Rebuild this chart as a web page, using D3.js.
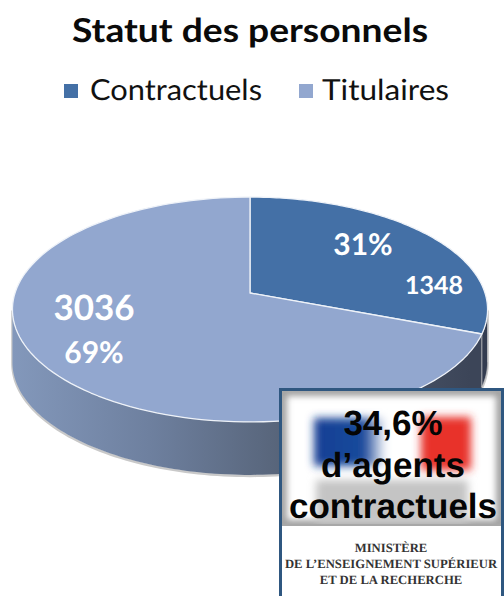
<!DOCTYPE html>
<html><head><meta charset="utf-8">
<script src="https://cdn.jsdelivr.net/npm/d3@7"></script>
<style>html,body{margin:0;padding:0;background:#fff;overflow:hidden}svg{display:block}text{text-rendering:geometricPrecision}</style>
</head><body><svg id="c" width="504" height="596"></svg>
<script>
const categories = ["Contractuels", "Titulaires"];
const values = [1348, 3036];
const percentLabels = ["31%", "69%"];
const colors = ["#4470a6", "#92a7cf"];
const insetHeadline = ["34,6%", "d\u2019agents", "contractuels"];
const insetFooter = ["MINIST\u00c8RE", "DE L\u2019ENSEIGNEMENT SUP\u00c9RIEUR", "ET DE LA RECHERCHE"];

const svg = d3.select("#c");
const defs = svg.append("defs");
const SANS = "Lato, 'Open Sans', sans-serif";

svg.append("text").text("Statut des personnels").attr("x", 72).attr("y", 42)
  .attr("textLength", 356).attr("lengthAdjust", "spacingAndGlyphs")
  .attr("font-family", SANS).attr("font-weight", 700)
  .attr("font-size", 33).attr("fill", "#0a0a0a");

const legendX = d3.scaleOrdinal().domain(categories).range([64, 299]);
const legendLen = d3.scaleOrdinal().domain(categories).range([172, 127]);
const lg = svg.selectAll("g.lg").data(categories).join("g").attr("class", "lg")
  .attr("transform", d => `translate(${legendX(d)},0)`);
lg.append("rect").attr("y", 84).attr("width", 14).attr("height", 14).attr("fill", (d, i) => colors[i]);
lg.append("text").text(d => d).attr("x", (d, i) => i ? 23 : 26).attr("y", 100).attr("font-family", SANS)
  .attr("textLength", d => legendLen(d)).attr("lengthAdjust", "spacingAndGlyphs")
  .attr("font-size", 29).attr("fill", "#111");

// Perspective projection of the unit disc onto the page
const P = {cx: 250, cy: 293, a: 235, b: 110, k: 0.1467, depth: 53};
const project = (ang, r = 1) => {
  const u = r * Math.sin(ang), v = -r * Math.cos(ang), w = 1 - P.k * v;
  return [P.cx + P.a * u / w, P.cy + P.b * v / w];
};
const pieGen = d3.pie().sort(null).value(d => d);
const arcs = pieGen(values);
const sample = (a0, a1) => d3.range(0, 121).map(i => project(d3.interpolateNumber(a0, a1)(i / 120)));
const line = d3.line();
const leftmost = 2 * Math.PI - Math.PI / 2 - Math.atan(P.k / Math.sqrt(1 - P.k * P.k));
const rightmost = Math.PI / 2 + Math.atan(P.k / Math.sqrt(1 - P.k * P.k));
const wallPath = (a0, a1) => {
  const top = sample(a0, a1);
  const bot = top.slice().reverse().map(p => [p[0], p[1] + P.depth]);
  return line(top.concat(bot)) + "Z";
};

const g1 = defs.append("linearGradient").attr("id", "wall").attr("gradientUnits", "userSpaceOnUse")
  .attr("x1", 12).attr("x2", 470).attr("y1", 0).attr("y2", 0);
[[0, "#8398bb"], [0.3, "#6e809f"], [0.6, "#566378"], [1, "#3c4558"]].forEach(s =>
  g1.append("stop").attr("offset", s[0]).attr("stop-color", s[1]));

// drop rim under the pie
svg.append("path").attr("d", wallPath(rightmost, leftmost)).attr("fill", "none")
  .attr("stroke", "#c9c9c9").attr("stroke-width", 2.5).attr("transform", "translate(0,1)");
// walls
svg.append("path").attr("d", wallPath(arcs[0].endAngle, leftmost)).attr("fill", "url(#wall)");
svg.append("path").attr("d", wallPath(rightmost, arcs[0].endAngle)).attr("fill", "#333c50")
  .attr("stroke", "#c9c9c9").attr("stroke-width", 0.8);

// top faces
const slicePath = d => line([[P.cx, P.cy]].concat(sample(d.startAngle, d.endAngle))) + "Z";
svg.selectAll("path.s").data(arcs).join("path").attr("class", "s").attr("d", slicePath)
  .attr("fill", (d, i) => colors[i]).attr("stroke", "#eef2f8").attr("stroke-width", 1.3)
  .attr("stroke-linejoin", "round");

const dl = (t, x, y, s) => svg.append("text").text(t).attr("x", x).attr("y", y).attr("text-anchor", "middle")
  .attr("font-family", SANS).attr("font-weight", 700).attr("font-size", s).attr("fill", "#fff");
dl(percentLabels[0], 363, 255, 30);
dl(String(values[0]), 434, 294, 25);
dl(String(values[1]), 94, 320, 35);
dl(percentLabels[1], 94, 363, 30);

// Inset
const ix = 279, iy = 388, iw = 225, ih = 208;
svg.append("rect").attr("x", ix + 1.5).attr("y", iy + 1.5).attr("width", iw - 3).attr("height", ih + 4)
  .attr("fill", "#fff").attr("stroke", "#2f5780").attr("stroke-width", 3);
const mk = (id, sd) => defs.append("filter").attr("id", id).attr("x", "-40%").attr("y", "-40%")
  .attr("width", "180%").attr("height", "180%").append("feGaussianBlur").attr("stdDeviation", sd);
mk("b5", 5); mk("b4", 4); mk("b3", 3);
const clip = defs.append("clipPath").attr("id", "ic");
clip.append("rect").attr("x", ix + 3).attr("y", iy + 3).attr("width", iw - 6).attr("height", 134);
const ins = svg.append("g").attr("clip-path", "url(#ic)");
ins.append("rect").attr("x", ix + 3).attr("y", iy + 3).attr("width", iw - 6).attr("height", 134)
  .attr("fill", "none").attr("stroke", "#a0a0a0").attr("stroke-width", 10).attr("filter", "url(#b3)");
const gb = defs.append("linearGradient").attr("id", "blue");
gb.append("stop").attr("offset", 0).attr("stop-color", "#123f94");
gb.append("stop").attr("offset", 0.7).attr("stop-color", "#1a4a9c");
gb.append("stop").attr("offset", 1).attr("stop-color", "#fff");
ins.append("rect").attr("x", 316).attr("y", 480).attr("width", 152).attr("height", 44).attr("fill", "#c4c4c4").attr("filter", "url(#b4)");
ins.append("rect").attr("x", 314).attr("y", 418).attr("width", 72).attr("height", 48).attr("fill", "url(#blue)").attr("filter", "url(#b4)");
ins.append("rect").attr("x", 421).attr("y", 417).attr("width", 50).attr("height", 53).attr("fill", "#e8302a").attr("filter", "url(#b4)");
svg.append("line").attr("x1", ix + 3).attr("x2", 501).attr("y1", 525).attr("y2", 525).attr("stroke", "#a8a8a8").attr("stroke-width", 2);

svg.selectAll("text.h").data(insetHeadline).join("text").attr("class", "h").text(d => d)
  .attr("x", 393).attr("y", (d, i) => [435, 477, 518][i]).attr("text-anchor", "middle")
  .attr("font-family", "'Liberation Sans', Arial, sans-serif").attr("font-weight", 700)
  .attr("font-size", 35).attr("fill", "#050505");
svg.selectAll("text.f").data(insetFooter).join("text").attr("class", "f").text(d => d)
  .attr("x", 391).attr("y", (d, i) => [552, 568, 584][i]).attr("text-anchor", "middle")
  .attr("font-family", "'Liberation Serif', serif").attr("font-weight", 700)
  .attr("font-size", 12.7).attr("fill", "#333");
</script></body></html>
